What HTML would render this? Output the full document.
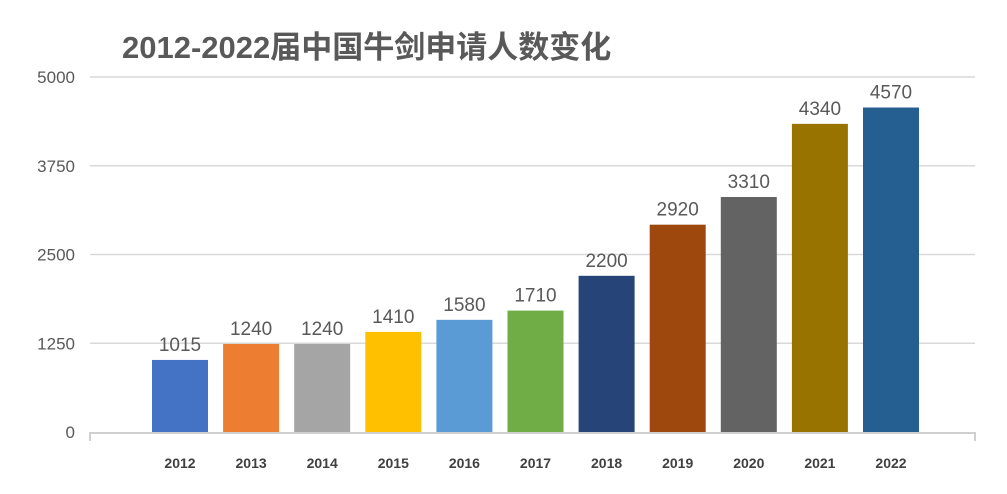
<!DOCTYPE html>
<html><head><meta charset="utf-8"><style>
body{margin:0;background:#fff;width:1007px;height:489px;overflow:hidden}
svg text{font-family:"Liberation Sans","Noto Sans CJK SC",sans-serif}
</style></head><body>
<svg id="chart" width="1007" height="489" xmlns="http://www.w3.org/2000/svg">
<text x="122" y="58" font-size="31" font-weight="bold" fill="#595959">2012-2022届中国牛剑申请人数变化</text>
<g id="grid"></g><g id="bars"></g><g id="labels"></g>
</svg>
<script>
const categories=["2012","2013","2014","2015","2016","2017","2018","2019","2020","2021","2022"];
const values=[1015,1240,1240,1410,1580,1710,2200,2920,3310,4340,4570];
const yTicks=[0,1250,2500,3750,5000];
const colors=["#4472C4","#ED7D31","#A5A5A5","#FFC000","#5B9BD5","#70AD47","#264478","#9E480E","#636363","#997300","#255E91"];
const NS="http://www.w3.org/2000/svg";
const y0=432,yTop=77,yMax=5000,left=90,right=975;
const yScale=v=>y0-(y0-yTop)*v/yMax;
const step=(891-180)/10;
const xScale=i=>180+i*step;
const bw=56;
function mk(tag,attrs,parent,text){const e=document.createElementNS(NS,tag);for(const k in attrs)e.setAttribute(k,attrs[k]);if(text!==undefined)e.textContent=text;document.getElementById(parent).appendChild(e);return e;}
yTicks.forEach(t=>{
  const y=yScale(t);
  if(t>0){const l=mk("line",{x1:left,x2:right,y1:y,y2:y,stroke:"#D9D9D9","stroke-width":1.5},"grid");
  
  }
  const tx=mk("text",{x:75,y:y+6,"text-anchor":"end","font-size":17,fill:"#595959"},"grid",String(t));
  
  
});
const ax=mk("path",{d:`M${left} 441 V${y0+1} H${right} V441`,stroke:"#D0D0D0","stroke-width":2,fill:"none"},"grid");


values.forEach((v,i)=>{
  const cx=xScale(i),y=yScale(v);
  const r=mk("rect",{x:cx-bw/2,y:y,width:bw,height:y0-y,fill:colors[i]},"bars");
  
  
  const vl=mk("text",{x:cx,y:y-9,"text-anchor":"middle","font-size":19,fill:"#595959"},"labels",String(v));
  
  
  const cl=mk("text",{x:cx,y:468,"text-anchor":"middle","font-size":14,"font-weight":"bold",fill:"#404040"},"labels",categories[i]);
  
  
});
</script>
</body></html>
